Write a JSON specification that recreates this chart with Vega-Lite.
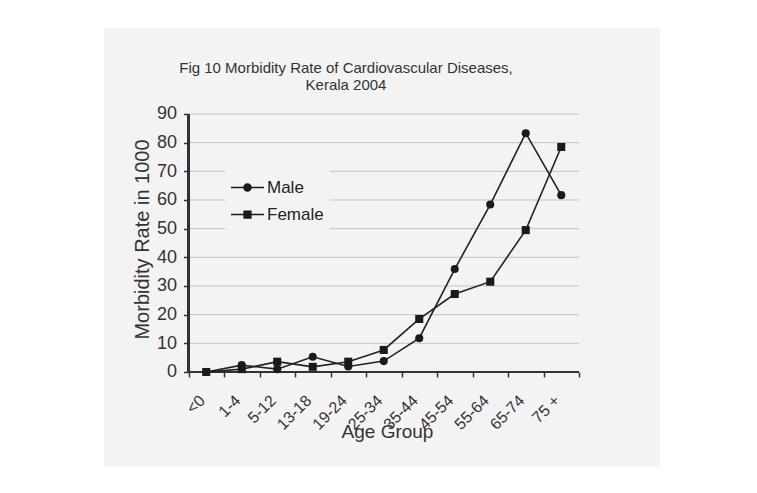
{
  "$schema": "https://vega.github.io/schema/vega-lite/v6.json",
  "width": 556,
  "height": 439,
  "autosize": {"type": "none"},
  "padding": {"left": 104, "top": 28, "right": 97, "bottom": 26},
  "background": "#ffffff",
  "config": {
    "view": {"fill": "#f3f3f3", "stroke": null},
    "font": "Liberation Sans"
  },
  "title": {
    "text": ["Fig 10 Morbidity Rate of Cardiovascular Diseases,", "Kerala 2004"],
    "fontSize": 15,
    "fontWeight": "normal",
    "color": "#333333",
    "font": "Liberation Sans",
    "anchor": "middle",
    "lineHeight": 17,
    "dx": -36,
    "dy": 69
  },
  "data": {
    "values": [
      {"age": "<0", "series": "Male", "rate": 0},
      {"age": "1-4", "series": "Male", "rate": 2.4},
      {"age": "5-12", "series": "Male", "rate": 1.0},
      {"age": "13-18", "series": "Male", "rate": 5.3},
      {"age": "19-24", "series": "Male", "rate": 1.9},
      {"age": "25-34", "series": "Male", "rate": 3.8},
      {"age": "35-44", "series": "Male", "rate": 11.8},
      {"age": "45-54", "series": "Male", "rate": 35.9},
      {"age": "55-64", "series": "Male", "rate": 58.4},
      {"age": "65-74", "series": "Male", "rate": 83.3},
      {"age": "75 +", "series": "Male", "rate": 61.7},
      {"age": "<0", "series": "Female", "rate": 0},
      {"age": "1-4", "series": "Female", "rate": 1.0},
      {"age": "5-12", "series": "Female", "rate": 3.6},
      {"age": "13-18", "series": "Female", "rate": 1.8},
      {"age": "19-24", "series": "Female", "rate": 3.6},
      {"age": "25-34", "series": "Female", "rate": 7.7},
      {"age": "35-44", "series": "Female", "rate": 18.5},
      {"age": "45-54", "series": "Female", "rate": 27.2},
      {"age": "55-64", "series": "Female", "rate": 31.5},
      {"age": "65-74", "series": "Female", "rate": 49.5},
      {"age": "75 +", "series": "Female", "rate": 78.5}
    ]
  },
  "encoding": {
    "x": {
      "field": "age",
      "type": "ordinal",
      "scale": {
        "type": "band",
        "domain": ["<0", "1-4", "5-12", "13-18", "19-24", "25-34", "35-44", "45-54", "55-64", "65-74", "75 +"],
        "paddingInner": 0,
        "paddingOuter": 0,
        "range": [84.5, 475]
      },
      "axis": {
        "title": "Age Group",
        "titleFont": "Liberation Sans",
        "titleFontSize": 19,
        "titleFontWeight": "normal",
        "titleColor": "#333333",
        "titleBaseline": "alphabetic",
        "titleX": 283,
        "titleY": 65,
        "offset": -95,
        "domain": false,
        "tickBand": "extent",
        "tickSize": 5,
        "tickColor": "#333333",
        "tickWidth": 1.5,
        "labelAngle": -45,
        "labelFontSize": 16,
        "labelColor": "#333333",
        "labelPadding": 15,
        "labelOffset": -10,
        "grid": false
      }
    },
    "y": {
      "field": "rate",
      "type": "quantitative",
      "scale": {"domain": [-33.14, 120], "nice": false, "zero": false},
      "axis": {
        "title": "Morbidity Rate in 1000",
        "titleFont": "Liberation Sans",
        "titleFontSize": 20,
        "titleFontWeight": "normal",
        "titleColor": "#333333",
        "titleY": 211,
        "titlePadding": 4,
        "offset": -84.5,
        "values": [0, 10, 20, 30, 40, 50, 60, 70, 80, 90],
        "domain": false,
        "grid": false,
        "tickSize": 5,
        "tickColor": "#333333",
        "tickWidth": 1.5,
        "labelFontSize": 18,
        "labelColor": "#333333",
        "labelPadding": 7
      }
    }
  },
  "layer": [
    {
      "data": {"values": [{"v": 10}, {"v": 20}, {"v": 30}, {"v": 40}, {"v": 50}, {"v": 60}, {"v": 70}, {"v": 80}, {"v": 90}]},
      "mark": {"type": "rule", "color": "#c4c4c4", "strokeWidth": 1},
      "encoding": {
        "x": {"datum": "<0", "type": "ordinal", "bandPosition": 0},
        "x2": {"datum": "75 +", "bandPosition": 1},
        "y": {"field": "v", "type": "quantitative"}
      }
    },
    {
      "mark": {"type": "rule", "color": "#333333", "strokeWidth": 1.5},
      "encoding": {
        "x": {"datum": "<0", "type": "ordinal", "bandPosition": 0},
        "y": {"datum": 0, "type": "quantitative"},
        "y2": {"datum": 90}
      }
    },
    {
      "mark": {"type": "rule", "color": "#333333", "strokeWidth": 1.5},
      "encoding": {
        "x": {"datum": "<0", "type": "ordinal", "bandPosition": 0},
        "x2": {"datum": "75 +", "bandPosition": 1},
        "y": {"datum": 0, "type": "quantitative"}
      }
    },
    {
      "mark": {"type": "line", "color": "#222222", "strokeWidth": 1.6},
      "encoding": {
        "detail": {"field": "series"}
      }
    },
    {
      "mark": {"type": "point", "filled": true, "opacity": 0, "color": "#1a1a1a"},
      "encoding": {
        "shape": {
          "field": "series",
          "type": "nominal",
          "scale": {
            "domain": ["Male", "Female"],
            "range": [
              "M-1,-0.05L1,-0.05L1,0.05L-1,0.05ZM-0.26,0A0.26,0.26,0,1,1,0.26,0A0.26,0.26,0,1,1,-0.26,0Z",
              "M-1,-0.05L1,-0.05L1,0.05L-1,0.05ZM-0.25,-0.25L0.25,-0.25L0.25,0.25L-0.25,0.25Z"
            ]
          },
          "legend": {
            "title": null,
            "orient": "none",
            "legendX": 121,
            "legendY": 137,
            "fillColor": "#f3f3f3",
            "padding": 6,
            "symbolSize": 1089,
            "symbolFillColor": "#1a1a1a",
            "symbolStrokeColor": "#1a1a1a",
            "symbolStrokeWidth": 0,
            "symbolOpacity": 1,
            "labelFontSize": 17,
            "labelColor": "#222222",
            "labelFont": "Liberation Sans",
            "labelOffset": 3,
            "rowPadding": 2
          }
        }
      }
    },
    {
      "mark": {"type": "point", "filled": true, "opacity": 1, "color": "#1a1a1a", "size": 65},
      "encoding": {
        "shape": {
          "condition": {"test": "datum.series === 'Male'", "value": "circle"},
          "value": "square"
        }
      }
    }
  ]
}
